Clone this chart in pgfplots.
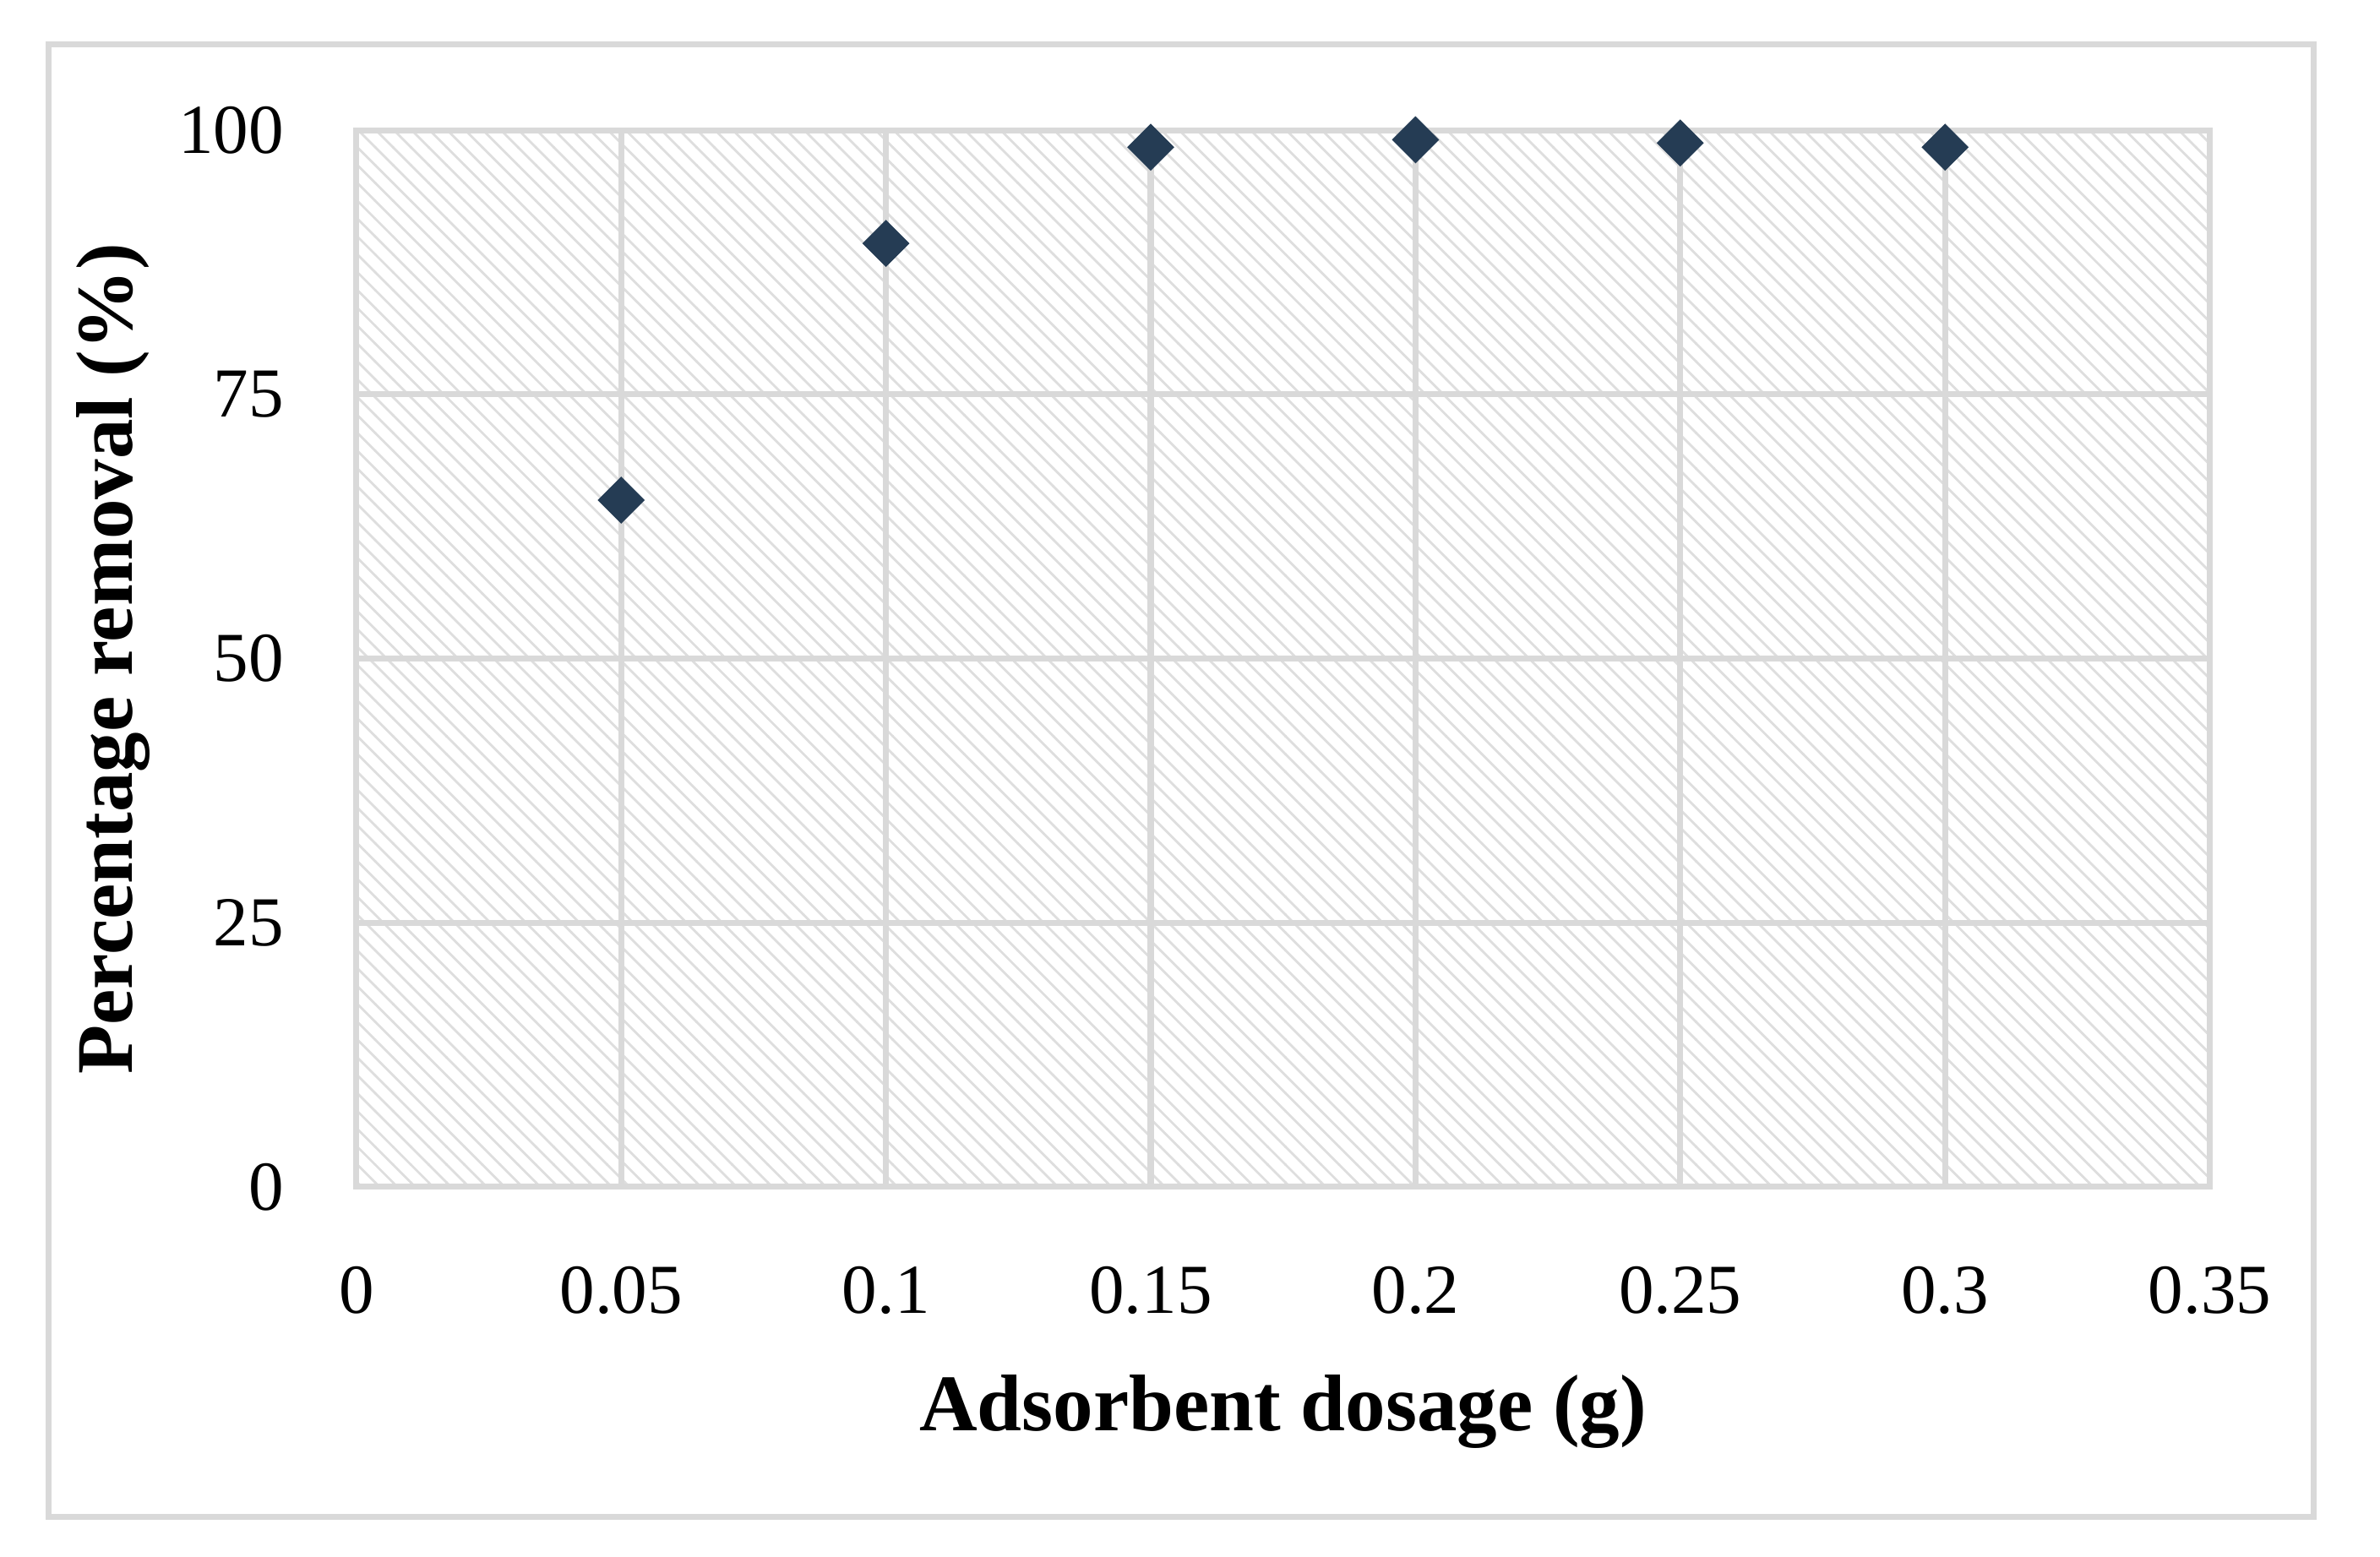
\documentclass[border=0pt]{standalone}
\usepackage{fontspec}
\setmainfont{Liberation Serif}
\usepackage{pgfplots}
\pgfplotsset{compat=1.18}
\usetikzlibrary{patterns}
\definecolor{navy}{HTML}{253C54}
\definecolor{gridgray}{HTML}{D9D9D9}
\begin{document}
\begin{tikzpicture}
\useasboundingbox (-59.9pt,-62.2pt) rectangle (340.1pt,199.5pt);
\draw[gridgray, line width=1pt] (-51.7pt,-55.4pt) rectangle (328.9pt,192.1pt);
\begin{axis}[
  at={(0pt,0pt)}, anchor=origin,
  scale only axis,
  width=311.5pt, height=177.6pt,
  xmin=0, xmax=0.35, ymin=0, ymax=100,
  xtick={0,0.05,...,0.35}, ytick={0,25,50,75,100},
  xticklabels={0,0.05,0.1,0.15,0.2,0.25,0.3,0.35},
  major tick length=0pt,
  grid=major,
  grid style={gridgray, line width=1pt},
  axis line style={gridgray, line width=1pt},
  axis background/.style={pattern=north west lines, pattern color=black!13},
  /pgf/number format/assume math mode=true,
  tick label style={font=\fontsize{11.8}{14}\selectfont, text=black},
  xticklabel style={anchor=base, inner sep=0pt, yshift=-21.2pt},
  yticklabel style={anchor=east, inner sep=0pt, xshift=-12pt},
  xlabel={\fontsize{13.5}{16}\selectfont\bfseries Adsorbent dosage (g)},
  ylabel={\fontsize{13.5}{16}\selectfont\bfseries Percentage removal (\%)},
  every axis x label/.style={at={(axis description cs:0.5,-0.2303)}, anchor=base},
  every axis y label/.style={at={(axis description cs:-0.131,0.5)}, anchor=center, rotate=90},
  clip=false,
]
\addplot[only marks, mark=square*, mark size=2.7pt,
  mark options={fill=navy, draw=navy, line width=0.2pt, rotate=45}]
  coordinates {(0.05,65.0) (0.1,89.3) (0.15,98.4) (0.2,99.1) (0.25,98.8) (0.3,98.4)};
\end{axis}
\end{tikzpicture}
\end{document}
